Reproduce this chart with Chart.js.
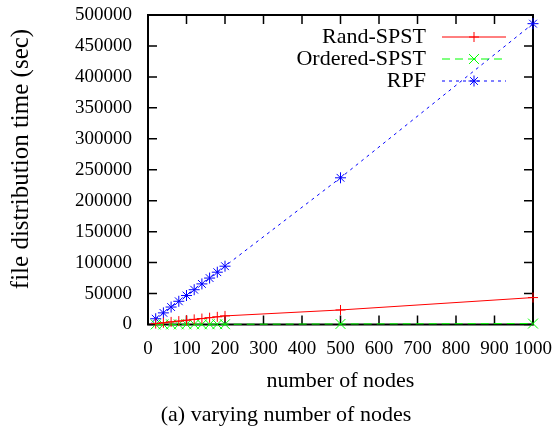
<!DOCTYPE html>
<html>
<head>
<meta charset="utf-8">
<script src="https://cdn.jsdelivr.net/npm/chart.js@4.4.0/dist/chart.umd.min.js"></script>
<style>
  html, body { margin: 0; padding: 0; background: #fff; }
</style>
</head>
<body>
<canvas id="myChart" width="555" height="428"></canvas>
<script>
// values
const nodes = [20, 40, 60, 80, 100, 120, 140, 160, 180, 200, 500, 1000];
const randSpst = [1400, 2800, 4200, 5500, 6900, 8300, 9600, 11000, 12400, 13900, 23500, 43500];
const orderedSpst = [80, 120, 160, 200, 240, 280, 320, 360, 400, 440, 900, 1500];
const rpf = [9300, 18800, 28200, 37500, 46800, 56200, 65600, 75000, 84500, 94200, 237000, 486000];

const seriesNames = ["Rand-SPST", "Ordered-SPST", "RPF"];
const xTitle = "number of nodes";
const yTitle = "file distribution time (sec)";
const caption = "(a) varying number of nodes";

const serif = "'Liberation Serif', 'Times New Roman', serif";
Chart.defaults.color = '#000';
Chart.defaults.font.family = serif;

function pts(ys) {
    return nodes.map((n, i) => ({ x: n, y: ys[i] }));
}

// gnuplot style frame: border, inward ticks on all four sides, legend and texts
const gnuplotFrame = {
    id: 'gnuplotFrame',
    beforeDatasetsDraw(chart) {
        const { ctx, chartArea: a, scales: { x, y } } = chart;
        const tl = 9;
        ctx.save();
        ctx.strokeStyle = '#000';
        ctx.lineWidth = 1.5;
        ctx.beginPath();
        x.ticks.forEach(t => {
            const px = x.getPixelForValue(t.value);
            ctx.moveTo(px, a.bottom); ctx.lineTo(px, a.bottom - tl);
            ctx.moveTo(px, a.top); ctx.lineTo(px, a.top + tl);
        });
        y.ticks.forEach(t => {
            const py = y.getPixelForValue(t.value);
            ctx.moveTo(a.left, py); ctx.lineTo(a.left + tl, py);
            ctx.moveTo(a.right, py); ctx.lineTo(a.right - tl, py);
        });
        ctx.stroke();
        ctx.lineWidth = 2;
        ctx.strokeRect(a.left, a.top, a.width, a.height);
        ctx.restore();
    },
    afterDraw(chart) {
        const ctx = chart.ctx;
        ctx.save();
        // legend
        ctx.font = '22px ' + serif;
        ctx.textAlign = 'right';
        ctx.textBaseline = 'middle';
        chart.data.datasets.forEach((ds, i) => {
            const ly = 37 + 22 * i;
            ctx.fillStyle = '#000';
            ctx.fillText(ds.label, 426, ly);
            ctx.strokeStyle = ds.borderColor;
            ctx.lineWidth = 1;
            ctx.setLineDash(ds.borderDash || []);
            ctx.beginPath();
            ctx.moveTo(442, ly);
            ctx.lineTo(506, ly);
            ctx.stroke();
            ctx.setLineDash([]);
            Chart.helpers.drawPoint(ctx, {
                pointStyle: ds.pointStyle,
                radius: ds.pointRadius,
                borderWidth: 1,
                rotation: 0
            }, 474, ly);
        });
        // y axis title
        ctx.save();
        ctx.translate(21, 159);
        ctx.rotate(-Math.PI / 2);
        ctx.font = '25px ' + serif;
        ctx.textAlign = 'center';
        ctx.fillText(yTitle, 0, 0);
        ctx.restore();
        // caption
        ctx.font = '22px ' + serif;
        ctx.textAlign = 'center';
        ctx.fillStyle = '#000';
        ctx.fillText(caption, 286, 415);
        ctx.restore();
    }
};

const config = {
    type: 'line',
    data: {
        datasets: [
            {
                label: seriesNames[0],
                data: pts(randSpst),
                borderColor: '#ff0000',
                backgroundColor: '#ff0000',
                borderWidth: 1,
                pointStyle: 'cross',
                pointRadius: 5,
                pointBorderWidth: 1,
                clip: false
            },
            {
                label: seriesNames[1],
                data: pts(orderedSpst),
                borderColor: '#00ff00',
                backgroundColor: '#00ff00',
                borderWidth: 1,
                borderDash: [8, 5],
                pointStyle: 'crossRot',
                pointRadius: 7,
                pointBorderWidth: 1,
                clip: false
            },
            {
                label: seriesNames[2],
                data: pts(rpf),
                borderColor: '#0000ff',
                backgroundColor: '#0000ff',
                borderWidth: 1,
                borderDash: [3, 4],
                pointStyle: 'star',
                pointRadius: 5.5,
                pointBorderWidth: 1,
                clip: false
            }
        ]
    },
    options: {
        responsive: false,
        animation: false,
        events: [],
        layout: { padding: 0 },
        plugins: {
            legend: { display: false },
            tooltip: { enabled: false }
        },
        scales: {
            x: {
                type: 'linear',
                min: 0,
                max: 1000,
                grid: { display: false, drawTicks: false },
                border: { display: false },
                ticks: {
                    stepSize: 100, padding: 13, font: { size: 19 },
                    maxRotation: 0, autoSkip: false,
                    callback: v => String(v)
                },
                title: { display: true, text: xTitle, font: { size: 22 }, padding: { top: 0, bottom: 34 } },
                afterFit: s => { s.height = 103.5; s.paddingLeft = 0; s.paddingRight = 22; }
            },
            y: {
                type: 'linear',
                min: 0,
                max: 500000,
                grid: { display: false, drawTicks: false },
                border: { display: false },
                ticks: {
                    stepSize: 50000, padding: 16, font: { size: 19 },
                    autoSkip: false,
                    callback: v => String(v)
                },
                afterFit: s => { s.width = 148; s.paddingTop = 15; s.paddingBottom = 0; }
            }
        }
    },
    plugins: [gnuplotFrame]
};

const myChart = new Chart(document.getElementById('myChart'), config);
</script>
</body>
</html>
